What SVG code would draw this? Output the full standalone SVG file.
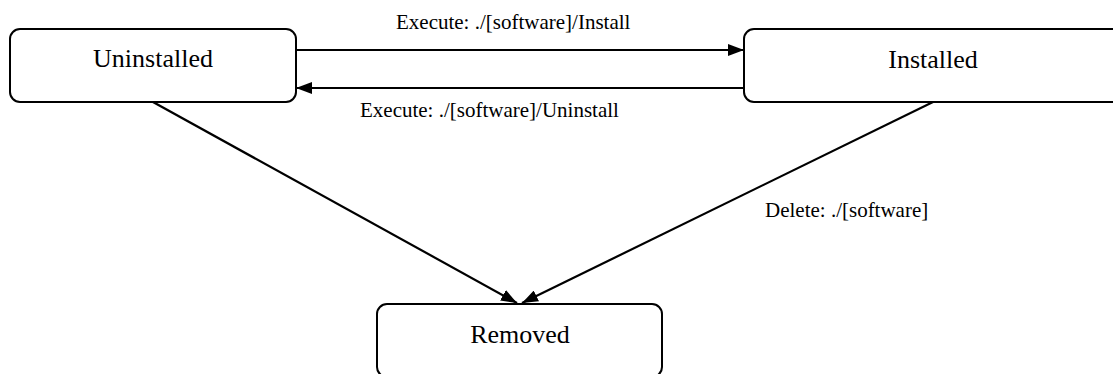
<svg xmlns="http://www.w3.org/2000/svg" width="1113" height="374" viewBox="0 0 1113 374">
<style>
.node{fill:#fff;stroke:#000;stroke-width:2}
text{font-family:'Liberation Serif','Times New Roman',Times,serif;fill:#000}
.nt{font-size:26px;text-anchor:middle}
.et{font-size:21px}
.edge{stroke:#000;stroke-width:2.2;fill:none;marker-end:url(#ah)}
</style>
<defs>
<marker id="ah" viewBox="0 0 16 12" refX="16" refY="6" markerWidth="16" markerHeight="12" markerUnits="userSpaceOnUse" orient="auto">
<path d="M0,0 L16,6 L0,12 Z" fill="#000"/>
</marker>
</defs>
<rect width="1113" height="374" fill="#fff"/>
<g id="connectors">
<path class="edge" d="M296,50 L744,50"/>
<path class="edge" d="M744,88 L296,88"/>
<path class="edge" d="M153,102 L517,303"/>
<path class="edge" d="M933,102 L522,303"/>
<text class="et" font-family="Liberation Serif, serif" x="396" y="29">Execute: ./[software]/Install</text>
<text class="et" font-family="Liberation Serif, serif" x="360" y="117">Execute: ./[software]/Uninstall</text>
<text class="et" font-family="Liberation Serif, serif" x="765" y="217">Delete: ./[software]</text>
</g>
<g id="uninstalled">
<rect class="node" x="10" y="29" width="286" height="73" rx="10"/>
<text class="nt" font-family="Liberation Serif, serif" x="153" y="67">Uninstalled</text>
</g>
<g id="installed">
<rect class="node" x="744" y="29" width="380" height="73" rx="10"/>
<text class="nt" font-family="Liberation Serif, serif" x="933" y="68">Installed</text>
</g>
<g id="removed">
<rect class="node" x="377" y="304" width="285" height="73" rx="10"/>
<text class="nt" font-family="Liberation Serif, serif" x="520" y="343">Removed</text>
</g>
</svg>
